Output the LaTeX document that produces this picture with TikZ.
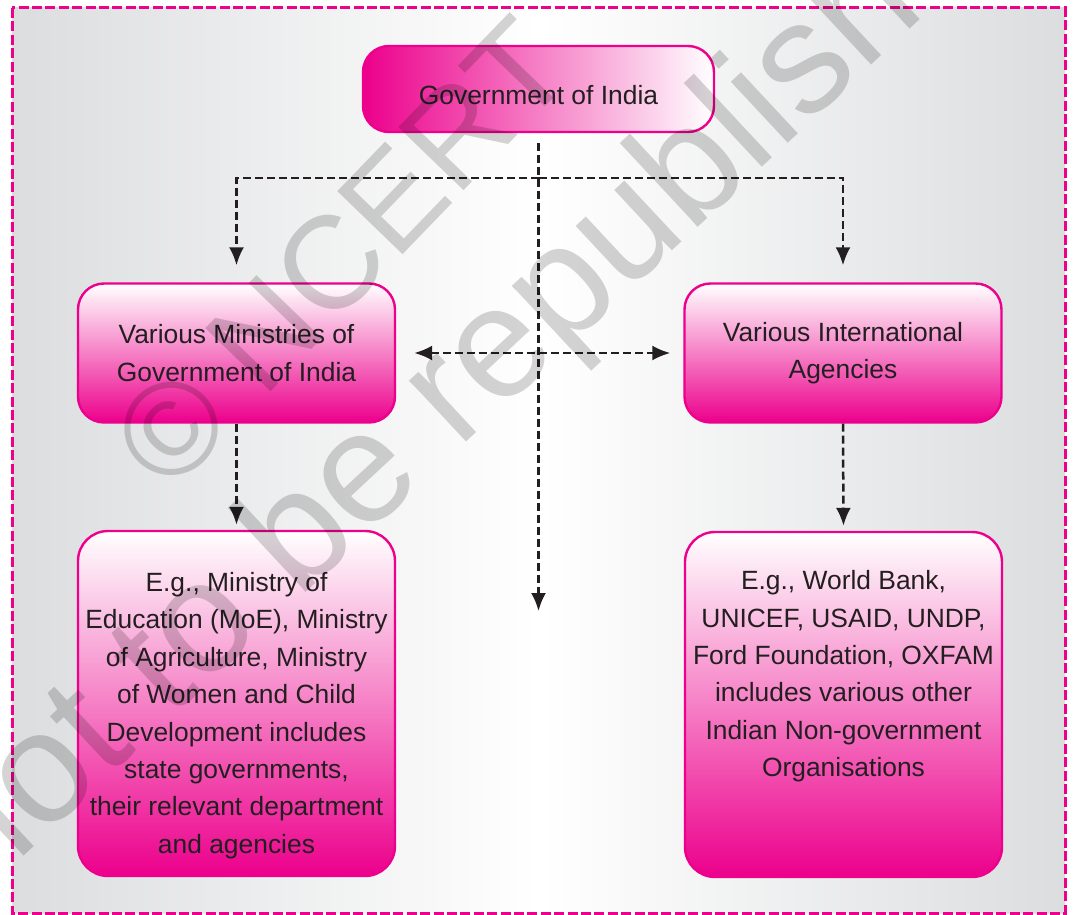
\documentclass[tikz,border=0pt]{standalone}
\usepackage{fontspec}
\setmainfont{Liberation Sans}
\usepackage[x11names, svgnames]{xcolor}
\usetikzlibrary{arrows.meta, calc, positioning}

\definecolor{ncmagenta}{RGB}{236,0,140}
\definecolor{nctext}{RGB}{35,31,32}
\definecolor{bggray}{RGB}{220,221,223}

% raises the top of the first line so the text sits lower in its box
\newcommand{\droprule}[1]{\rule{0pt}{#1}}

\tikzset{
	>={Latex[length=9pt, width=7.5pt]},
	box/.style={draw=ncmagenta, line width=1.2pt, rounded corners=13pt, align=center, text=nctext, inner sep=0pt, font=\fontsize{13.2}{18.7}\selectfont},
	vbox/.style={box, top color=white, bottom color=ncmagenta, minimum width=158.5pt},
	hbox/.style={box, left color=ncmagenta, right color=white},
	link/.style={draw=nctext, line width=1.25pt, dash pattern=on 4pt off 2pt},
	wmark/.style={text=black, text opacity=0.17, inner sep=0pt},
}

\begin{document}
\begin{tikzpicture}[x=0.5pt, y=-0.5pt]
	\useasboundingbox (0,0) rectangle (1073,915);

	% background and dashed frame
	\shade[left color=bggray, right color=bggray, middle color=white] (12,8) rectangle (1065,913);
	\draw[ncmagenta, line width=1.5pt, dash pattern=on 5pt off 1.7pt] (12,8) rectangle (1065,913);

	\node[hbox, minimum width=175.5pt, minimum height=43pt] (goi) at (538.5,89) {\droprule{15.7pt}Government of India};
	\node[vbox, minimum height=69.5pt] (ministries) at (236.5,353) {Various Ministries of\\Government of India};
	\node[vbox, minimum height=69.5pt] (agencies) at (843,353) {Various International\\Agencies};
	\node[vbox, minimum height=172.5pt, rounded corners=15pt] (ministryeg) at (236.5,703.5)
		{\droprule{21.7pt}E.g., Ministry of\\Education (MoE), Ministry\\of Agriculture, Ministry\\of Women and Child\\Development includes\\state governments,\\their relevant department\\and agencies};
	\node[vbox, minimum height=172.5pt, rounded corners=15pt] (agencyeg) at (843.5,704.5)
		{\droprule{21.7pt}E.g., World Bank,\\UNICEF, USAID, UNDP,\\Ford Foundation, OXFAM\\includes various other\\Indian Non-government\\Organisations\\\strut\\\strut};

	\coordinate (split) at (538.5,178);
	\coordinate (stateend) at (538.5,611);

	\draw[link, ->, shorten <=5pt] (goi.south) -- (stateend);
	\draw[link, ->, shorten >=8.5pt] (split) -| (ministries.north);
	\draw[link, ->, shorten >=8.5pt] (split) -| (agencies.north);
	\draw[link, <->, shorten <=9pt, shorten >=6.5pt] (ministries.east) -- (agencies.west);
	\draw[link, ->, shorten >=2.5pt] (ministries.south) -- (ministryeg.north);
	\draw[link, ->, shorten >=2.5pt] (agencies.south) -- (agencyeg.north);

	% watermark
	\node[wmark, rotate=46, font=\fontsize{66}{66}\selectfont] (ncert) at (341,253) {© NCERT};
	\node[wmark, rotate=43, font=\fontsize{79}{79}\selectfont] (norepub) at (489,366) {not to be republished};

\end{tikzpicture}
\end{document}
